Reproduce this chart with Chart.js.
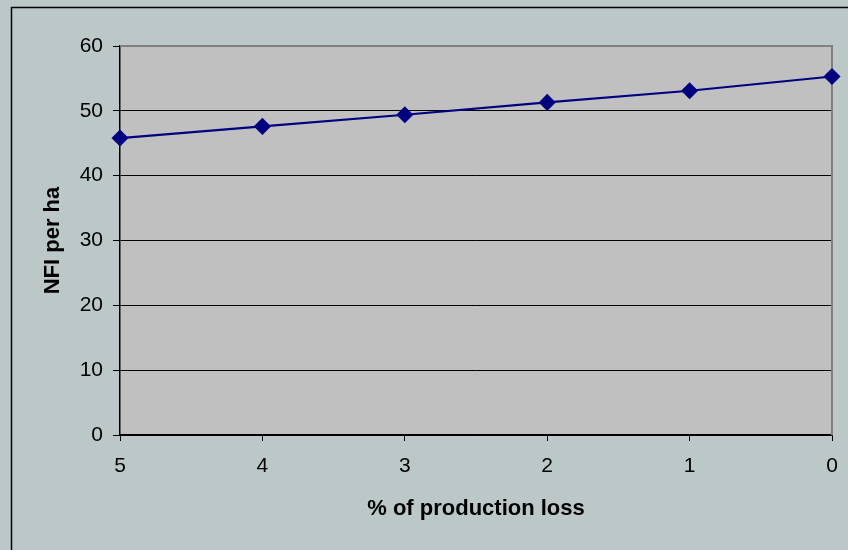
<!DOCTYPE html>
<html>
<head>
<meta charset="utf-8">
<script src="https://cdn.jsdelivr.net/npm/chart.js@4"></script>
<style>
  html, body { margin: 0; padding: 0; background: #bcc8c8; }
  #wrap { width: 848px; height: 550px; }
</style>
</head>
<body>
<div id="wrap"><canvas id="nfi" width="848" height="550"></canvas></div>
<script>
// chart data
const lossLabels = ['5', '4', '3', '2', '1', '0']
const nfiValues = [45.8, 47.6, 49.4, 51.3, 53.1, 55.3]
const yTicks = [0, 10, 20, 30, 40, 50, 60]

const FONT = "'Liberation Sans', Arial, sans-serif"

// plot background, grey top/right border and outer frame
const frame = {
    id: 'frame',
    beforeDraw(chart) {
        const c = chart.ctx
        const a = chart.chartArea
        c.save()
        c.fillStyle = '#bcc8c8'
        c.fillRect(0, 0, chart.width, chart.height)
        c.strokeStyle = '#000'
        c.lineWidth = 1.5
        c.strokeRect(11.5, 7.5, chart.width + 20, chart.height + 20)
        c.fillStyle = '#c0c0c0'
        c.fillRect(a.left, a.top, a.right - a.left, a.bottom - a.top)
        c.restore()
    },
    beforeDatasetsDraw(chart) {
        const c = chart.ctx
        const a = chart.chartArea
        c.save()
        c.strokeStyle = '#808080'
        c.lineWidth = 2
        c.beginPath()
        c.moveTo(a.left, a.top)
        c.lineTo(a.right, a.top)
        c.lineTo(a.right, a.bottom)
        c.stroke()
        c.restore()
    }
}

const chartNfi = new Chart(nfi, {
    type: 'line',
    data: {
        labels: lossLabels,
        datasets: [{
            label: 'NFI per ha',
            data: nfiValues,
            borderWidth: 2.2,
            borderColor: '#000080',
            backgroundColor: '#000080',
            pointStyle: 'rectRot',
            pointRadius: 7,
            pointHoverRadius: 7,
            tension: 0
        }]
    },
    options: {
        responsive: false,
        animation: false,
        layout: { padding: { left: 0, right: 16, top: 46, bottom: 0 } },
        plugins: {
            legend: { display: false },
            tooltip: { enabled: false }
        },
        scales: {
            x: {
                offset: false,
                afterFit: (s) => {
                    s.height = 115
                    s.paddingLeft = 0
                    s.paddingRight = 0
                },
                grid: {
                    drawOnChartArea: false,
                    drawTicks: true,
                    tickLength: 6,
                    color: '#000'
                },
                border: { color: '#000', width: 1.5 },
                ticks: {
                    color: '#000',
                    padding: 13,
                    maxRotation: 0,
                    font: { family: FONT, size: 21 }
                },
                title: {
                    display: true,
                    text: '% of production loss',
                    color: '#000',
                    font: { family: FONT, size: 22, weight: 'bold' },
                    padding: { top: 0, bottom: 28 }
                }
            },
            y: {
                min: 0,
                max: 60,
                afterFit: (s) => {
                    s.width = 120
                    s.paddingTop = 0
                    s.paddingBottom = 0
                },
                afterBuildTicks: (s) => { s.ticks = yTicks.map(v => ({ value: v })) },
                grid: {
                    color: '#000',
                    lineWidth: 1,
                    tickLength: 7
                },
                border: { color: '#000', width: 1.5 },
                ticks: {
                    color: '#000',
                    padding: 10,
                    font: { family: FONT, size: 21 }
                },
                title: {
                    display: true,
                    text: 'NFI per ha',
                    color: '#000',
                    font: { family: FONT, size: 22, weight: 'bold' },
                    padding: { top: 40, bottom: 0 }
                }
            }
        }
    },
    plugins: [frame]
})
</script>
</body>
</html>
